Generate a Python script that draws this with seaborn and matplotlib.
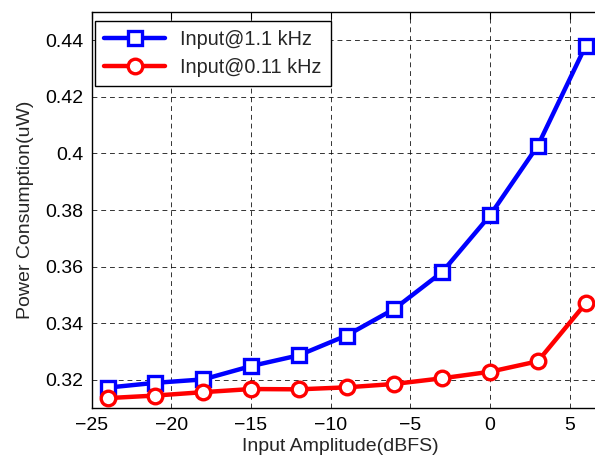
import matplotlib
matplotlib.use("Agg")
import matplotlib.pyplot as plt
import seaborn as sns
import pandas as pd

x_dbfs = [-24, -21, -18, -15, -12, -9, -6, -3, 0, 3, 6]
p_1k1 = [0.3173, 0.3190, 0.3202, 0.3249, 0.3287, 0.3357, 0.3451, 0.3581, 0.3781, 0.4027, 0.4379]
p_0k11 = [0.3136, 0.3145, 0.3157, 0.3168, 0.3167, 0.3174, 0.3186, 0.3206, 0.3229, 0.3266, 0.3470]
labels = ["Input@1.1 kHz", "Input@0.11 kHz"]
xticks = [-25, -20, -15, -10, -5, 0, 5]
yticks = [0.32, 0.34, 0.36, 0.38, 0.40, 0.42, 0.44]
ytick_labels = ["0.32", "0.34", "0.36", "0.38", "0.4", "0.42", "0.44"]

sns.set_style("white")
plt.rcParams['font.family'] = ['Liberation Sans', 'DejaVu Sans']

fig = plt.figure(figsize=(5.95, 4.61), dpi=100)
ax = fig.add_axes([0.154, 0.1143, 0.857, 0.8603])

df1 = pd.DataFrame({"x": x_dbfs, "y": p_1k1})
df2 = pd.DataFrame({"x": x_dbfs, "y": p_0k11})
sns.lineplot(data=df1, x="x", y="y", ax=ax, color="#0000ff", lw=3.2,
             marker="s", markersize=10.5, markerfacecolor="white",
             markeredgecolor="#0000ff", markeredgewidth=2.4, label=labels[0])
sns.lineplot(data=df2, x="x", y="y", ax=ax, color="#ff0000", lw=3.2,
             marker="o", markersize=10.5, markerfacecolor="white",
             markeredgecolor="#ff0000", markeredgewidth=2.4, label=labels[1])

ax.set_xlim(-25, 7)
ax.set_ylim(0.31, 0.45)
ax.set_xticks(xticks)
ax.set_yticks(yticks)
ax.set_yticklabels(ytick_labels)
ax.grid(True, color="black", linestyle=(0, (5, 4)), linewidth=0.7, alpha=0.8)
for s in ax.spines.values():
    s.set_color("black")
    s.set_linewidth(1.0)
ax.tick_params(direction="in", length=5, width=0.8, top=True, right=True,
               labelsize=14, colors="black", pad=6)
ax.set_xlabel("Input Amplitude(dBFS)", fontsize=14)
ax.set_ylabel("Power Consumption(uW)", fontsize=14, labelpad=8)
ax.xaxis.set_label_coords(0.487, -0.075)

leg = ax.legend(loc="upper left", bbox_to_anchor=(0.0065, 0.9765), fontsize=14.3,
                frameon=True, fancybox=False, edgecolor="black", framealpha=1,
                borderpad=0.45, handlelength=3.1, handletextpad=0.75,
                labelspacing=0.45, borderaxespad=0)
leg.get_frame().set_linewidth(1.0)

fig.savefig("out.png", dpi=100)
